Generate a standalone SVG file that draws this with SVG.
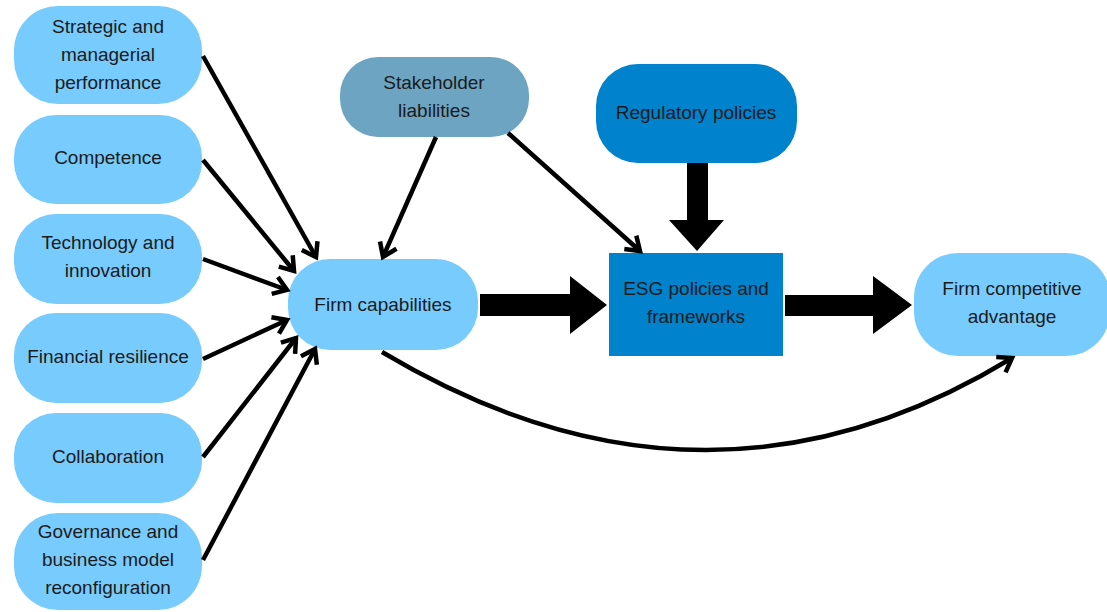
<svg xmlns="http://www.w3.org/2000/svg" width="1107" height="612" viewBox="0 0 1107 612">
<style>
.lb{fill:#77cbfd}
.t{font-family:"Liberation Sans",Arial,sans-serif;font-size:19px;fill:#1b1b1b;text-anchor:middle}
.c{fill:none;stroke:#000;stroke-width:4.5;marker-end:url(#ah)}
</style>
<defs>
<marker id="ah" viewBox="-4 -12 24 24" markerWidth="24" markerHeight="24" refX="13" refY="0" orient="auto" markerUnits="userSpaceOnUse">
<path d="M0,-9 L13,0 L0,9" fill="none" stroke="#000" stroke-width="4.5" stroke-linejoin="miter"/>
</marker>
</defs>
<rect width="1107" height="612" fill="#fff"/>
<g id="n-strategic"><rect class="lb" x="14" y="6" width="188" height="98" rx="44"/><text class="t"><tspan x="108" y="33">Strategic and</tspan><tspan x="108" y="61">managerial</tspan><tspan x="108" y="89">performance</tspan></text></g>
<g id="n-competence"><rect class="lb" x="14" y="115" width="188" height="89" rx="42"/><text class="t" x="108" y="164">Competence</text></g>
<g id="n-technology"><rect class="lb" x="14" y="214" width="188" height="90" rx="42"/><text class="t"><tspan x="108" y="249">Technology and</tspan><tspan x="108" y="277">innovation</tspan></text></g>
<g id="n-financial"><rect class="lb" x="14" y="313" width="188" height="90" rx="42"/><text class="t" x="108" y="363">Financial resilience</text></g>
<g id="n-collaboration"><rect class="lb" x="14" y="413" width="188" height="90" rx="42"/><text class="t" x="108" y="463">Collaboration</text></g>
<g id="n-governance"><rect class="lb" x="14" y="513" width="188" height="97" rx="44"/><text class="t"><tspan x="108" y="538">Governance and</tspan><tspan x="108" y="566">business model</tspan><tspan x="108" y="594">reconfiguration</tspan></text></g>
<g id="n-firmcap"><rect class="lb" x="288" y="259" width="190" height="91" rx="42"/><text class="t" x="383" y="311">Firm capabilities</text></g>
<g id="n-stakeholder"><rect x="340" y="57" width="189" height="80" rx="38" fill="#6ca4c2"/><text class="t"><tspan x="434" y="89">Stakeholder</tspan><tspan x="434" y="117">liabilities</tspan></text></g>
<g id="n-regulatory"><rect x="596" y="64" width="201" height="99" rx="42" fill="#0082cc"/><text class="t" x="696" y="119">Regulatory policies</text></g>
<g id="n-esg"><rect x="609" y="253" width="174" height="103" fill="#0082cc"/><text class="t"><tspan x="696" y="295">ESG policies and</tspan><tspan x="696" y="323">frameworks</tspan></text></g>
<g id="n-advantage"><rect class="lb" x="914" y="253" width="196" height="103" rx="44"/><text class="t"><tspan x="1012" y="295">Firm competitive</tspan><tspan x="1012" y="323">advantage</tspan></text></g>
<g id="connectors">
<line class="c" x1="203" y1="56" x2="316" y2="257"/>
<line class="c" x1="203" y1="160" x2="294" y2="271"/>
<line class="c" x1="203" y1="259" x2="287" y2="290"/>
<line class="c" x1="203" y1="359" x2="287" y2="320"/>
<line class="c" x1="203" y1="457" x2="296" y2="338"/>
<line class="c" x1="203" y1="560" x2="315" y2="349"/>
<line class="c" x1="436" y1="137" x2="383" y2="257"/>
<line class="c" x1="508" y1="133" x2="640" y2="251"/>
<path class="c" d="M382,352 Q705,545 1012,358"/>
<polygon points="480,294 570,294 570,276 607,305 570,334 570,316 480,316" fill="#000"/>
<polygon points="785,295 873,295 873,276 912,305 873,334 873,316 785,316" fill="#000"/>
<polygon points="687,163 708,163 708,220 724,220 697,251 669,220 687,220" fill="#000"/>
</g>
</svg>
